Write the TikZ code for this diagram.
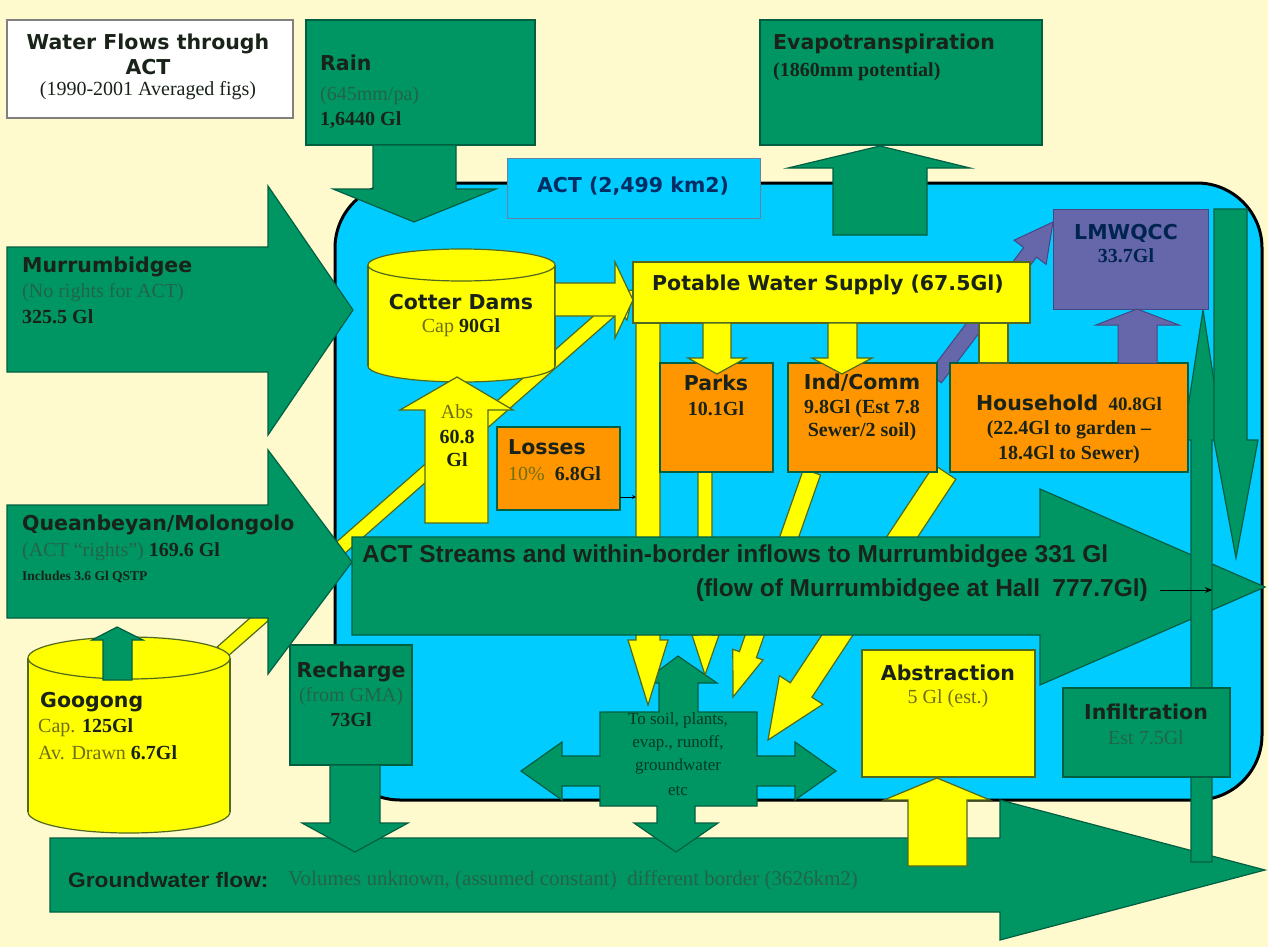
\documentclass[tikz,border=0pt]{standalone}
\usepackage{fontspec}
\setmainfont{Liberation Serif}
\newfontfamily\hdf{DejaVu Sans}
\newfontfamily\lsans{Liberation Sans}
\newfontfamily\wsans[FakeStretch=1.08]{Liberation Sans}
\usetikzlibrary{arrows.meta}
\definecolor{bg}{RGB}{255,250,205}
\definecolor{gr}{RGB}{0,150,100}
\definecolor{gredge}{RGB}{0,95,65}
\definecolor{yl}{RGB}{255,255,0}
\definecolor{yledge}{RGB}{80,105,30}
\definecolor{org}{RGB}{255,150,0}
\definecolor{pur}{RGB}{102,102,170}
\definecolor{puredge}{RGB}{70,70,130}
\definecolor{sky}{RGB}{0,204,255}
\definecolor{dk}{RGB}{25,35,25}
\definecolor{faint}{RGB}{35,100,72}
\definecolor{olive}{RGB}{110,110,20}
\definecolor{navy}{RGB}{0,45,100}
\begin{document}
\begin{tikzpicture}[x=1pt,y=-1pt]
\tikzset{
 gsh/.style={fill=gr, draw=gredge, line width=1.2pt, line join=miter},
 ysh/.style={fill=yl, draw=yledge, line width=1.2pt, line join=miter},
 osh/.style={fill=org, draw=gredge, line width=1.2pt},
 psh/.style={fill=pur, draw=puredge, line width=1pt, line join=miter},
 boxn/.style={inner sep=0pt, outer sep=0pt},
 hd/.style={font=\hdf\bfseries\fontsize{20.5}{23}\selectfont, text=dk, inner sep=0pt},
 sr/.style={font=\fontsize{20}{23}\selectfont, inner sep=0pt},
 srb/.style={font=\bfseries\fontsize{20}{23}\selectfont, text=dk, inner sep=0pt},
 soil/.style={font=\fontsize{17}{20}\selectfont, text=gredge!60!black, inner sep=0pt},
}
\useasboundingbox (0,0) rectangle (1268,947);
\fill[bg] (0,0) rectangle (1268,947);

% ACT region
\draw[fill=sky, line width=3pt, rounded corners=65pt] (335,183) rectangle (1262,800);

% groundwater arrow
\draw[gsh] (50,838) -- (1000,838) -- (1000,800) -- (1265,870) -- (1000,940) -- (1000,912) -- (50,912) -- cycle;

% top boxes
\node[boxn, draw=gray, line width=2pt, fill=white, minimum width=286pt, minimum height=98pt] (titlebox) at (150,69) {};
\node[boxn, gsh, minimum width=229pt, minimum height=125pt] (rain) at (420.5,82.5) {};
\node[boxn, gsh, minimum width=282pt, minimum height=125pt] (evap) at (901,82.5) {};

% rain and evap arrows
\draw[gsh] (373,145) -- (456,145) -- (456,189) -- (496,189) -- (414,222) -- (333,189) -- (373,189) -- cycle;
\draw[gsh] (833,235) -- (927,235) -- (927,168) -- (970,168) -- (880,146) -- (788,168) -- (833,168) -- cycle;

\node[boxn, fill=sky, draw=navy!60, line width=1pt, minimum width=253pt, minimum height=60pt] (actlab) at (633.5,188) {};

% Googong diagonal yellow
\draw[ysh] (217.4,646.7) -- (610.4,301.2) -- (603,293) -- (634,290) -- (627,320) -- (619.6,311.8) -- (226.6,657.3) -- cycle;

% inflow arrows
\draw[gsh] (7,247) -- (268,247) -- (268,186) -- (353,310) -- (268,435) -- (268,372) -- (7,372) -- cycle;
\draw[gsh] (7,505) -- (268,505) -- (268,450) -- (352,562) -- (268,674) -- (268,618) -- (7,618) -- cycle;

% Googong cylinder
\coordinate (googong) at (129,735);
\draw[ysh] (129,812) ellipse [x radius=101, y radius=21];
\fill[yl] (28,658) rectangle (230,812);
\draw[yledge, line width=1.2pt] (28,658) -- (28,812) (230,658) -- (230,812);
\draw[ysh] (129,658) ellipse [x radius=101, y radius=21];
\draw[gsh] (103,680) -- (132,680) -- (132,640) -- (143,640) -- (117,627) -- (92,640) -- (103,640) -- cycle;

% Cotter cylinder
\coordinate (cotter) at (461.5,315);
\draw[ysh] (461.5,366) ellipse [x radius=93.5, y radius=16];
\fill[yl] (368,265) rectangle (555,366);
\draw[yledge, line width=1.2pt] (368,265) -- (368,366) (555,265) -- (555,366);
\draw[ysh] (461.5,265) ellipse [x radius=93.5, y radius=16];

% Abs arrow and Cotter -> potable
\draw[ysh] (425,523) -- (488,523) -- (488,410) -- (513,410) -- (457,377) -- (400,410) -- (425,410) -- cycle;
\draw[ysh] (555,283) -- (615,283) -- (615,262) -- (633,300) -- (615,338) -- (615,316) -- (555,316) -- cycle;

% To soil cross
\draw[gsh] (600,712) -- (659,712) -- (659,683) -- (642,683) -- (678,656) -- (717,683) -- (698,683) -- (698,712) -- (757,712) -- (757,756) -- (795,756) -- (795,742) -- (836,771) -- (795,800) -- (795,786) -- (757,786) -- (757,806) -- (695,806) -- (695,823) -- (718,823) -- (676,852) -- (634,823) -- (657,823) -- (657,806) -- (600,806) -- (600,786) -- (562,786) -- (562,800) -- (521,771) -- (562,742) -- (562,756) -- (600,756) -- cycle;

% yellow downward flows
\draw[ysh] (636,322) -- (660,322) -- (660,640) -- (668,640) -- (648,705) -- (628,640) -- (636,640) -- cycle;
\draw[ysh] (698,470) -- (712,470) -- (712,635) -- (719,635) -- (705,675) -- (692,635) -- (698,635) -- cycle;
\draw[ysh] (803.5,469) -- (739.4,651.6) -- (732.8,649.3) -- (733,697) -- (763,659.9) -- (756.4,657.6) -- (820.5,475) -- cycle;
\draw[ysh] (934.2,464.8) -- (790.3,682.8) -- (779.4,675.7) -- (768,740) -- (822.8,704.3) -- (811.9,697.2) -- (955.8,479.2) -- cycle;

% streams arrow
\draw[gsh] (352,537) -- (1040,537) -- (1040,489) -- (1265,587) -- (1040,685) -- (1040,635) -- (352,635) -- cycle;

% right green arrows
\draw[gsh] (1191,862) -- (1212,862) -- (1212,440) -- (1223,440) -- (1203,310) -- (1183,440) -- (1191,440) -- cycle;
\draw[gsh] (1214,209) -- (1247,209) -- (1247,440) -- (1258,440) -- (1236,558) -- (1214,440) -- cycle;

% purple diagonal (behind potable box)
\draw[psh] (928.6,373.2) -- (1023.7,247.5) -- (1014.1,240.2) -- (1053,222) -- (1046.1,264.4) -- (1036.5,257.1) -- (941.4,382.8) -- cycle;

% boxes
\node[boxn, ysh, minimum width=397pt, minimum height=61pt] (potable) at (831.5,292.5) {};
\node[boxn, osh, minimum width=123pt, minimum height=83pt] (losses) at (558.5,468.5) {};
\node[boxn, osh, minimum width=113pt, minimum height=109pt] (parks) at (716.5,417.5) {};
\node[boxn, osh, minimum width=149pt, minimum height=109pt] (indcomm) at (862.5,417.5) {};
\node[boxn, osh, minimum width=238pt, minimum height=109pt] (household) at (1069,417.5) {};
\node[boxn, psh, minimum width=155pt, minimum height=100pt] (lmwqcc) at (1130.5,259) {};

% potable -> users
\draw[ysh] (703,323) -- (731,323) -- (731,358) -- (746,358) -- (717,374) -- (688,358) -- (703,358) -- cycle;
\draw[ysh] (828,323) -- (857,323) -- (857,358) -- (872,358) -- (842,374) -- (812,358) -- (828,358) -- cycle;
\draw[ysh] (979,323) -- (1008,323) -- (1008,363) -- (979,363) -- cycle;

% purple up flow
\draw[psh] (1118,363) -- (1157,363) -- (1157,325) -- (1179,325) -- (1137,309) -- (1096,325) -- (1118,325) -- cycle;

% losses connector
\coordinate (lc1) at (620,497);
\coordinate (lc2) at (636,497);
\draw[line width=0.8pt, -{Stealth[length=4pt,width=4pt]}] (lc1) -- (lc2);

% bottom boxes and arrows
\draw[ysh] (908,866) -- (967,866) -- (967,800) -- (990,800) -- (937,778) -- (884,800) -- (908,800) -- cycle;
\node[boxn, ysh, minimum width=173pt, minimum height=127pt] (abstraction) at (948.5,713.5) {};
\node[boxn, gsh, minimum width=167pt, minimum height=89pt] (infiltration) at (1146.5,732.5) {};
\node[boxn, gsh, minimum width=122pt, minimum height=120pt] (recharge) at (351,705) {};
\draw[gsh] (330,765) -- (380,765) -- (380,823) -- (408,823) -- (355,852) -- (302,823) -- (330,823) -- cycle;

% ---------- texts ----------
\node[hd] at (148,44) {Water Flows through};
\node[hd] at (148,67) {ACT};
\node[sr, text=dk] at (148,91) {(1990-2001 Averaged figs)};

\node[hd, anchor=west] at (320,63) {Rain};
\node[sr, text=faint, anchor=west] at (320,96) {(645mm/pa)};
\node[srb, anchor=west] at (320,120) {1,6440 Gl};

\node[hd, anchor=west] at (773,44) {Evapotranspiration};
\node[srb, anchor=west] at (773,72) {(1860mm potential)};

\node[hd, text=navy] at (633,186) {ACT (2,499 km2)};

\node[hd, anchor=west] at (22,267) {Murrumbidgee};
\node[sr, text=faint, anchor=west] at (22,293) {(No rights for ACT)};
\node[srb, anchor=west] at (22,317) {325.5 Gl};

\node[hd, anchor=west] at (22,525) {Queanbeyan/Molongolo};
\node[sr, anchor=west] at (22,552) {\textcolor{faint}{(ACT ``rights'')} \textbf{\textcolor{dk}{169.6 Gl}}};
\node[anchor=west, inner sep=0pt, text=dk, font=\bfseries\fontsize{13.5}{15}\selectfont] at (22,577) {Includes 3.6 Gl QSTP};

\node[hd, anchor=west] at (40,702) {Googong};
\node[sr, anchor=west] at (38,728) {\textcolor{olive}{Cap.} \textbf{\textcolor{dk}{125Gl}}};
\node[sr, anchor=west] at (38,753) {\textcolor{olive}{Av. Drawn} \textbf{\textcolor{dk}{6.7Gl}}};

\node[hd] at (461,302) {Cotter Dams};
\node[sr] at (461,328) {\textcolor{olive}{Cap} \textbf{\textcolor{dk}{90Gl}}};

\node[sr, text=olive] at (457,412) {Abs};
\node[srb] at (457,437) {60.8};
\node[srb] at (457,460) {Gl};

\node[hd, anchor=west] at (652,285) {Potable Water Supply (67.5Gl)};

\node[hd, anchor=west] at (508,447) {Losses};
\node[sr, anchor=west] at (508,474) {\textcolor{olive}{10\%}\enspace\textbf{\textcolor{dk}{6.8Gl}}};

\node[hd] at (716,383) {Parks};
\node[srb] at (716,409) {10.1Gl};

\node[hd] at (862,383) {Ind/Comm};
\node[srb] at (862,409) {9.8Gl (Est 7.8};
\node[srb] at (862,432) {Sewer/2 soil)};

\node[hd] at (1069,403) {Household\enspace{\rmfamily\fontsize{19}{21}\selectfont 40.8Gl}};
\node[srb] at (1069,430) {(22.4Gl to garden –};
\node[srb] at (1069,455) {18.4Gl to Sewer)};

\node[hd, text=navy!80!black] at (1126,233) {LMWQCC};
\node[srb, text=navy!80!black] at (1126,256) {33.7Gl};

\node[anchor=west, inner sep=0pt, text=dk, font=\lsans\bfseries\fontsize{24.5}{27}\selectfont] (st1) at (362,556) {ACT Streams and within-border inflows to Murrumbidgee 331 Gl};
\node[anchor=east, inner sep=0pt, text=dk, font=\lsans\bfseries\fontsize{24.5}{27}\selectfont] (st2) at (1148,590) {(flow of Murrumbidgee at Hall\enspace 777.7Gl)};
\coordinate (ha) at (1160,590);
\coordinate (hb) at (1212,590);
\draw[line width=1pt, -{Stealth[length=7pt,width=6pt]}] (ha) -- (hb);

\node[hd] at (351,672) {Recharge};
\node[sr, text=faint] at (351,697) {(from GMA)};
\node[srb] at (351,720) {73Gl};

\node[soil] at (678,720) {To soil, plants,};
\node[soil] at (678,743) {evap., runoff,};
\node[soil] at (678,766) {groundwater};
\node[soil] at (678,791) {etc};

\node[hd] at (948,673) {Abstraction};
\node[sr, text=olive] at (948,699) {5 Gl (est.)};

\node[hd] at (1146,712) {Infiltration};
\node[sr, text=faint] at (1146,738) {Est 7.5Gl};

\node[anchor=west, inner sep=0pt, text=dk, font=\wsans\bfseries\fontsize{21}{24}\selectfont] (gw) at (68,880) {Groundwater flow:};
\node[anchor=west, inner sep=0pt, text=faint, font=\fontsize{21}{24}\selectfont] at (288,880) {Volumes unknown, (assumed constant)\enspace different border (3626km2)};
\end{tikzpicture}
\end{document}
